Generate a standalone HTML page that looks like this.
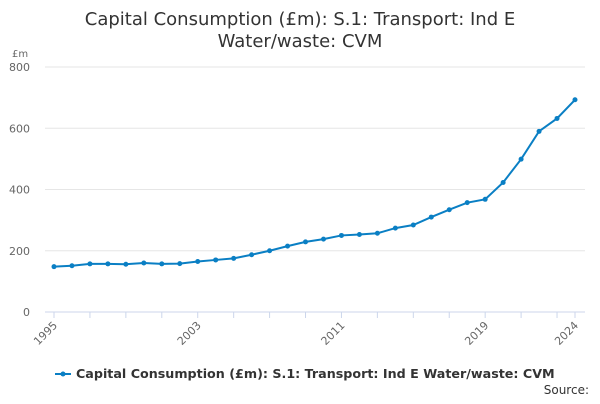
<!DOCTYPE html>
<html><head><meta charset="utf-8"><style>
body{margin:0;background:#fff;font-family:"DejaVu Sans","Liberation Sans",sans-serif}
</style></head><body>
<svg id="c" width="600" height="400" xmlns="http://www.w3.org/2000/svg" font-family="DejaVu Sans, Liberation Sans, sans-serif">
<text x="300" y="25" text-anchor="middle" font-size="18" fill="#333">Capital Consumption (£m): S.1: Transport: Ind E</text>
<text x="300" y="47" text-anchor="middle" font-size="18" fill="#333">Water/waste: CVM</text>
<text x="12" y="57" font-size="10" fill="#666">£m</text>
<g id="grid"></g><g id="xaxis"></g><g id="series"></g>
<g>
<line x1="55" y1="374" x2="71" y2="374" stroke="#0a7fc4" stroke-width="2"/>
<circle cx="63" cy="374" r="2.5" fill="#0a7fc4"/>
<text x="76" y="378" font-size="12.7" font-weight="bold" fill="#333">Capital Consumption (£m): S.1: Transport: Ind E Water/waste: CVM</text>
</g>
<text x="589" y="394" text-anchor="end" font-size="12" fill="#333">Source:</text>
</svg>
<script>
const years=[1995,1996,1997,1998,1999,2000,2001,2002,2003,2004,2005,2006,2007,2008,2009,2010,2011,2012,2013,2014,2015,2016,2017,2018,2019,2020,2021,2022,2023,2024];
const values=[148,151,157,157,156,160,157,158,165,170,175,187,200,215,229,238,250,253,257,274,284,310,334,357,368,423,499,590,632,693];
const yTicks=[0,200,400,600,800];
const xLabels=[1995,2003,2011,2019,2024];
const NS="http://www.w3.org/2000/svg";
const x0=54,x1=575,y0=312,y1=67;
const X=y=>x0+(y-1995)*(x1-x0)/(2024-1995);
const Y=v=>y0-v*(y0-y1)/800;
function mk(t,a,p){const e=document.createElementNS(NS,t);for(const k in a)e.setAttribute(k,a[k]);p.appendChild(e);return e;}
const grid=document.getElementById('grid');
yTicks.forEach(v=>{
 const l=mk('line',{x1:45,x2:585,y1:Y(v),y2:Y(v),stroke:v?'#e6e6e6':'#ccd6eb'},grid);
 
 
 const t=mk('text',{x:30,y:Y(v)+4,'text-anchor':'end','font-size':11,fill:'#666'},grid);
 t.textContent=v;
 
 
});
const xa=document.getElementById('xaxis');
years.forEach((yr,i)=>{
 if((yr-1995)%2===0||yr===2024){
  const l=mk('line',{x1:X(yr),x2:X(yr),y1:y0,y2:y0+6,stroke:'#ccd6eb'},xa);
  
  
 }
});
xLabels.forEach(yr=>{
 const t=mk('text',{x:X(yr)+4,y:y0+14,'text-anchor':'end','font-size':11,fill:'#666',transform:`rotate(-45 ${X(yr)+4} ${y0+14})`},xa);
 t.textContent=yr;
 
 
});
const s=document.getElementById('series');
const p=mk('polyline',{points:years.map((y,i)=>X(y)+','+Y(values[i])).join(' '),fill:'none',stroke:'#0a7fc4','stroke-width':2},s);


years.forEach((y,i)=>{
 const c=mk('circle',{cx:X(y),cy:Y(values[i]),r:2.5,fill:'#0a7fc4'},s);
 
 
});
</script>
</body></html>
